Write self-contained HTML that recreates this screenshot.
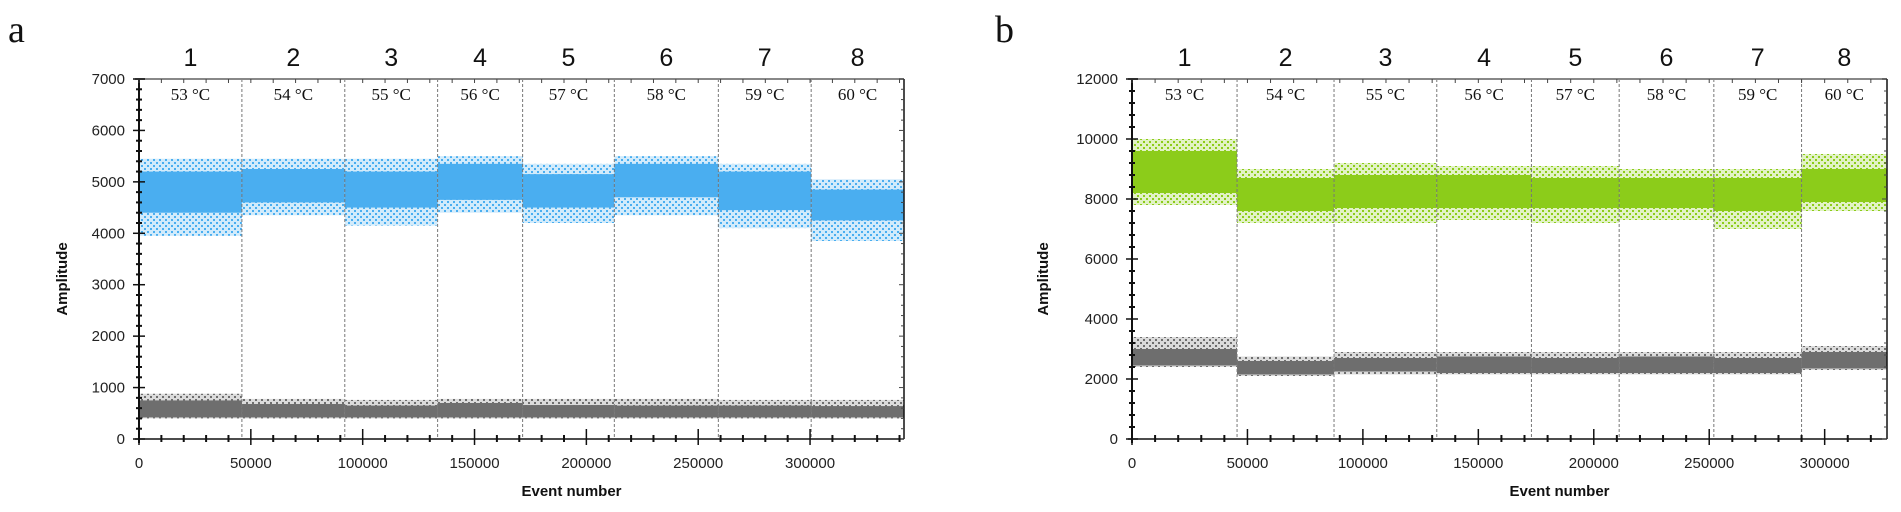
<!DOCTYPE html>
<html><head><meta charset="utf-8"><style>
body{margin:0;background:#fff;width:1901px;height:512px;overflow:hidden}
svg{display:block}
.tk{font-family:"Liberation Sans",sans-serif;font-size:15px;fill:#222}
.sec{font-family:"Liberation Sans",sans-serif;font-size:25px;fill:#111}
.tmp{font-family:"Liberation Serif",serif;font-size:17px;fill:#111}
.ax{font-family:"Liberation Sans",sans-serif;font-size:15px;font-weight:bold;fill:#111}
.pl{font-family:"Liberation Serif",serif;font-size:38px;fill:#111}
</style></head><body>
<svg id="fig" width="1901" height="512">
<defs>
<pattern id="dots-blue" width="6" height="6" patternUnits="userSpaceOnUse"><rect width="6" height="6" fill="#4aaef0" opacity="0.25"/><rect x="0" y="0" width="2" height="2" fill="#4aaef0"/><rect x="3" y="3" width="2" height="2" fill="#4aaef0"/></pattern>
<pattern id="dots-green" width="6" height="6" patternUnits="userSpaceOnUse"><rect width="6" height="6" fill="#8ccc1a" opacity="0.25"/><rect x="0" y="0" width="2" height="2" fill="#8ccc1a"/><rect x="3" y="3" width="2" height="2" fill="#8ccc1a"/></pattern>
<pattern id="dots-gray" width="6" height="6" patternUnits="userSpaceOnUse"><rect width="6" height="6" fill="#6e6e6e" opacity="0.25"/><rect x="0" y="0" width="2" height="2" fill="#6e6e6e"/><rect x="3" y="3" width="2" height="2" fill="#6e6e6e"/></pattern>
</defs>
</svg>
<script>
// ---- data ----
const sectionLabels = ["1","2","3","4","5","6","7","8"];
const tempLabels = ["53 °C","54 °C","55 °C","56 °C","57 °C","58 °C","59 °C","60 °C"];
const aBounds = [0,46000,92000,133500,171500,212500,259000,300500,342000];
const aBlueCoreLo = [4400,4600,4500,4650,4500,4700,4450,4250];
const aBlueCoreHi = [5200,5250,5200,5350,5150,5350,5200,4850];
const aBlueFrLo = [3950,4350,4150,4400,4200,4350,4100,3850];
const aBlueFrHi = [5450,5450,5450,5500,5350,5500,5350,5050];
const aGrayCoreLo = [420,420,420,420,420,420,420,420];
const aGrayCoreHi = [750,680,650,700,660,650,650,640];
const aGrayFrLo = [400,400,400,400,400,400,400,400];
const aGrayFrHi = [880,780,760,780,780,780,760,760];
const aYTicks = [0,1000,2000,3000,4000,5000,6000,7000];
const aXTicks = [0,50000,100000,150000,200000,250000,300000];
const bBounds = [0,45500,87500,132000,173000,211000,252000,290000,327000];
const bGreenCoreLo = [8200,7600,7700,7700,7700,7700,7600,7900];
const bGreenCoreHi = [9600,8700,8800,8800,8700,8700,8700,9000];
const bGreenFrLo = [7800,7200,7200,7300,7200,7300,7000,7600];
const bGreenFrHi = [10000,9000,9200,9100,9100,9000,9000,9500];
const bGrayCoreLo = [2450,2150,2250,2200,2200,2200,2200,2350];
const bGrayCoreHi = [3000,2600,2700,2750,2700,2750,2700,2900];
const bGrayFrLo = [2400,2100,2150,2150,2150,2150,2150,2300];
const bGrayFrHi = [3400,2750,2900,2900,2900,2900,2900,3100];
const bYTicks = [0,2000,4000,6000,8000,10000,12000];
const bXTicks = [0,50000,100000,150000,200000,250000,300000];

const NS="http://www.w3.org/2000/svg";
const svg=document.getElementById('fig');
function mk(tag,attrs,parent,text){const e=document.createElementNS(NS,tag);for(const k in attrs)e.setAttribute(k,attrs[k]);if(text!==undefined)e.textContent=text;(parent||svg).appendChild(e);return e;}

function panel(p){
  const g=mk('g',{});
  
  
  const X=v=>p.x0+(v-0)/(p.xmax)*(p.x1-p.x0);
  const Y=v=>p.y0-(v/p.ymax)*(p.y0-p.y1);
  const lbl=mk('text',{x:p.lx,y:42,class:'pl'},g,p.id);
  
  
  p.series.forEach(s=>{
    for(let i=0;i<p.bounds.length-1;i++){
      const xa=X(p.bounds[i]),xb=X(p.bounds[i+1]);
      const fr=mk('rect',{x:xa,y:Y(s.frHi[i]),width:xb-xa,height:Y(s.frLo[i])-Y(s.frHi[i]),fill:'url(#'+s.pat+')'},g);
      
      
      const c=mk('rect',{x:xa,y:Y(s.coreHi[i]),width:xb-xa,height:Y(s.coreLo[i])-Y(s.coreHi[i]),fill:s.color},g);
      
      
    }
  });
  for(let i=0;i<p.bounds.length-1;i++){
    if(i>0){const d=mk('line',{x1:X(p.bounds[i]),x2:X(p.bounds[i]),y1:p.y1,y2:p.y0,stroke:'#777','stroke-width':1,'stroke-dasharray':'3,2'},g);
      
      }
    const cx=(X(p.bounds[i])+X(p.bounds[i+1]))/2;
    const s=mk('text',{x:cx,y:66,class:'sec','text-anchor':'middle'},g,sectionLabels[i]);
    
    
    const t=mk('text',{x:cx,y:100,class:'tmp','text-anchor':'middle'},g,tempLabels[i]);
    
    
  }
  mk('line',{x1:p.x0-4,x2:p.x1,y1:p.y1,y2:p.y1,stroke:'#888','stroke-width':2},g);
  mk('line',{x1:p.x1,x2:p.x1,y1:p.y1,y2:p.y0,stroke:'#111','stroke-width':1.5},g);
  mk('line',{x1:p.x0,x2:p.x0,y1:p.y1,y2:p.y0+4,stroke:'#111','stroke-width':2},g);
  mk('line',{x1:p.x0-4,x2:p.x1,y1:p.y0,y2:p.y0,stroke:'#111','stroke-width':1.5},g);
  const ystep=p.yTicks[1]-p.yTicks[0];
  for(let v=0;v<=p.ymax;v+=ystep/5){
    const major=Math.abs(v/ystep-Math.round(v/ystep))<1e-6;
    mk('line',{x1:p.x0-(major?6:3),x2:p.x0+(major?6:3),y1:Y(v),y2:Y(v),stroke:'#111','stroke-width':major?1.5:2},g);
    mk('line',{x1:p.x1-(major?5:3),x2:p.x1,y1:Y(v),y2:Y(v),stroke:'#444','stroke-width':1},g);
  }
  p.yTicks.forEach(v=>{const t=mk('text',{x:p.x0-14,y:Y(v)+5,class:'tk','text-anchor':'end'},g,String(v));
    
    });
  for(let v=0;v<=p.xmax;v+=10000){
    const major=v%50000===0;
    mk('line',{x1:X(v),x2:X(v),y1:p.y0-(major?10:4),y2:p.y0+(major?6:3),stroke:'#111','stroke-width':major?1.5:2},g);
    mk('line',{x1:X(v),x2:X(v),y1:p.y1,y2:p.y1+4,stroke:'#444','stroke-width':1},g);
  }
  p.xTicks.forEach(v=>{const t=mk('text',{x:X(v),y:p.y0+29,class:'tk','text-anchor':'middle'},g,String(v));
    
    });
  const xt=mk('text',{x:(p.x0+p.x1)/2+50,y:p.y0+57,class:'ax','text-anchor':'middle'},g,'Event number');
  
  
  const yt=mk('text',{x:0,y:0,class:'ax','text-anchor':'middle',transform:`translate(${p.ytx},${(p.y0+p.y1)/2+20}) rotate(-90)`},g,'Amplitude');
  
  
}

panel({id:'a',lx:8,x0:139,x1:904,xmax:342000,y0:439,y1:79,ymax:7000,ytx:67,
  bounds:aBounds,yTicks:aYTicks,xTicks:aXTicks,
  series:[{name:'fam-positive',color:'#4aaef0',pat:'dots-blue',coreLo:aBlueCoreLo,coreHi:aBlueCoreHi,frLo:aBlueFrLo,frHi:aBlueFrHi},
          {name:'negative',color:'#6e6e6e',pat:'dots-gray',coreLo:aGrayCoreLo,coreHi:aGrayCoreHi,frLo:aGrayFrLo,frHi:aGrayFrHi}]});
panel({id:'b',lx:995,x0:1132,x1:1887,xmax:327000,y0:439,y1:79,ymax:12000,ytx:1048,
  bounds:bBounds,yTicks:bYTicks,xTicks:bXTicks,
  series:[{name:'hex-positive',color:'#8ccc1a',pat:'dots-green',coreLo:bGreenCoreLo,coreHi:bGreenCoreHi,frLo:bGreenFrLo,frHi:bGreenFrHi},
          {name:'negative',color:'#6e6e6e',pat:'dots-gray',coreLo:bGrayCoreLo,coreHi:bGrayCoreHi,frLo:bGrayFrLo,frHi:bGrayFrHi}]});
</script>
</body></html>
